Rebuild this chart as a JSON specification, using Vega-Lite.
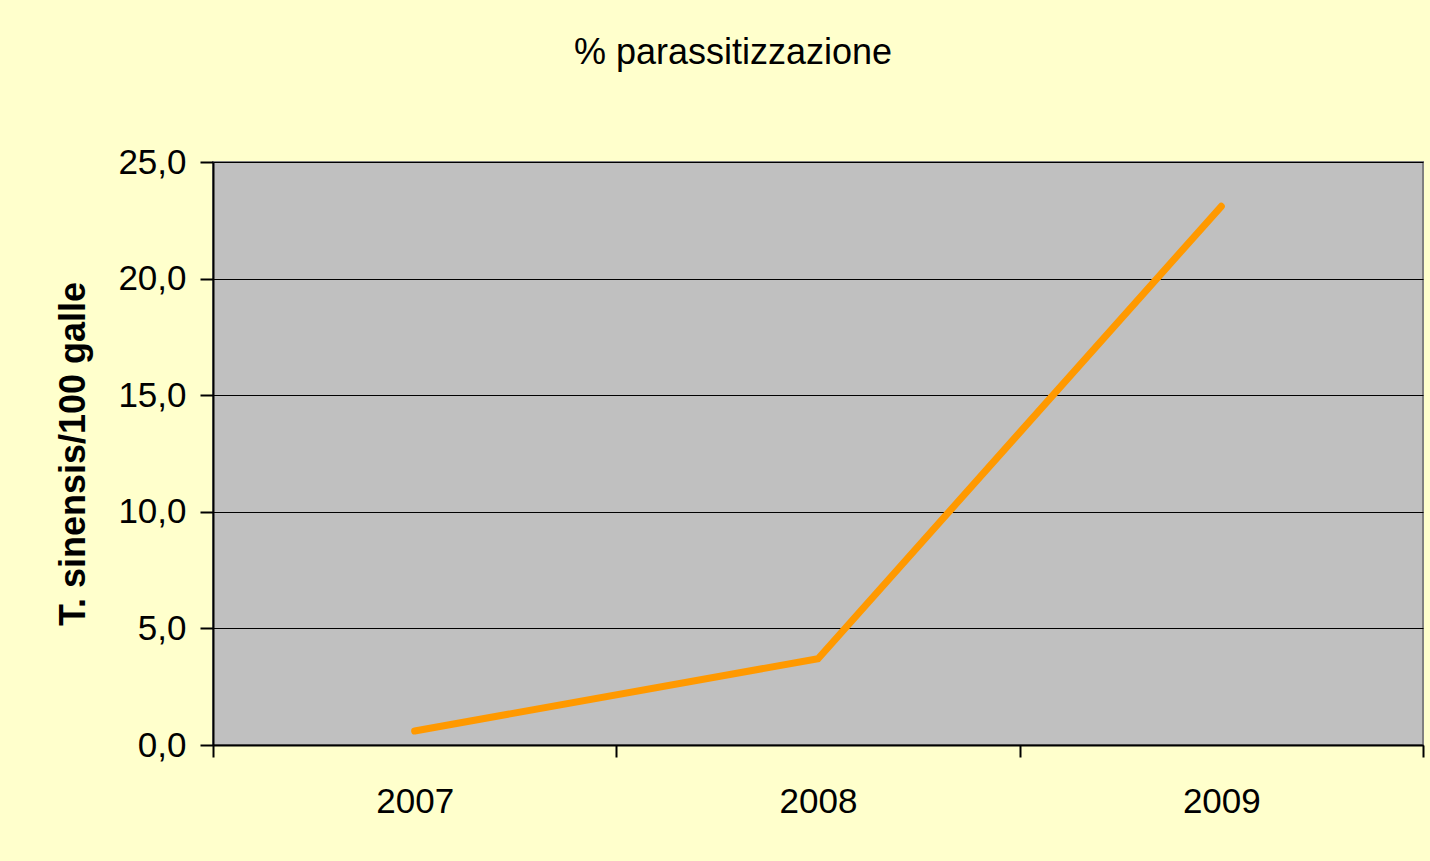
{
  "$schema": "https://vega.github.io/schema/vega-lite/v6.json",
  "width": 1210,
  "height": 583,
  "autosize": {"type": "none"},
  "padding": {"left": 213, "top": 162, "right": 7, "bottom": 116},
  "background": "#FFFFCC",
  "title": {
    "text": "% parassitizzazione",
    "font": "Liberation Sans",
    "fontSize": 36,
    "fontWeight": "normal",
    "color": "#000000",
    "anchor": "middle",
    "dx": -85,
    "offset": 73
  },
  "data": {
    "values": [
      {"anno": "2007", "valore": 0.6},
      {"anno": "2008", "valore": 3.7},
      {"anno": "2009", "valore": 23.1}
    ]
  },
  "mark": {"type": "line", "color": "#FF9900", "strokeWidth": 7, "strokeCap": "round", "strokeJoin": "miter"},
  "encoding": {
    "x": {
      "field": "anno",
      "type": "ordinal",
      "scale": {"type": "band", "paddingInner": 0, "paddingOuter": 0},
      "axis": {
        "title": null,
        "labelAngle": 0,
        "tickBand": "extent",
        "grid": false,
        "labelFont": "Liberation Sans",
        "labelFontSize": 35,
        "labelColor": "#000000",
        "labelPadding": 27,
        "tickSize": 12,
        "tickColor": "#000000",
        "tickWidth": 2,
        "domainColor": "#000000",
        "domainWidth": 2
      }
    },
    "y": {
      "field": "valore",
      "type": "quantitative",
      "scale": {"domain": [0, 25], "nice": false, "zero": true},
      "axis": {
        "values": [0, 5, 10, 15, 20, 25],
        "labelExpr": "replace(format(datum.value, '.1f'), '.', ',')",
        "title": "T. sinensis/100 galle",
        "titleFont": "Liberation Sans",
        "titleFontSize": 36,
        "titleFontWeight": "bold",
        "titleColor": "#000000",
        "titlePadding": 25,
        "labelFont": "Liberation Sans",
        "labelFontSize": 35,
        "labelColor": "#000000",
        "labelPadding": 14,
        "tickSize": 13,
        "tickColor": "#000000",
        "tickWidth": 2,
        "domainColor": "#000000",
        "domainWidth": 2,
        "grid": true,
        "gridColor": "#000000",
        "gridWidth": 1.2
      }
    }
  },
  "config": {
    "view": {"fill": "#C0C0C0", "stroke": "#808080", "strokeWidth": 2}
  }
}
